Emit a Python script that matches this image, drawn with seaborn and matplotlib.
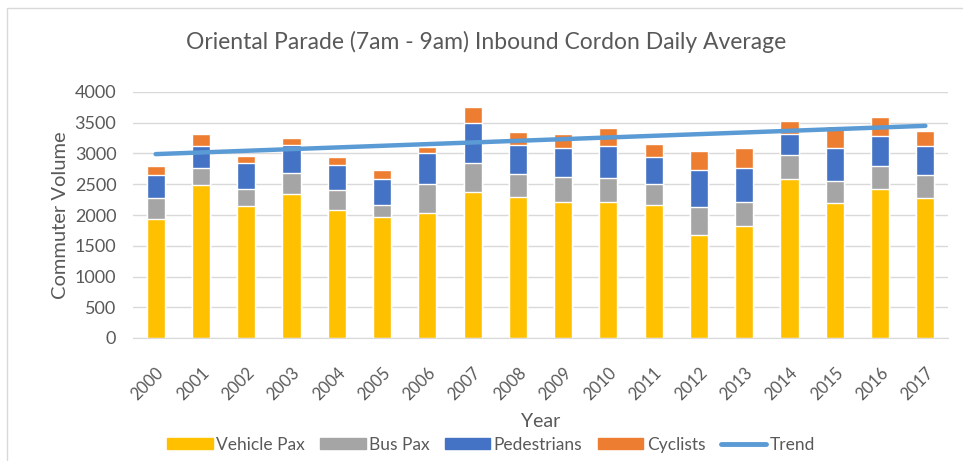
import numpy as np
import pandas as pd
import matplotlib
matplotlib.use('Agg')
import matplotlib.pyplot as plt
import seaborn as sns
from matplotlib.patches import Patch, Rectangle
from matplotlib.lines import Line2D

years = [str(y) for y in range(2000, 2018)]
vehicle_pax = [1935, 2490, 2150, 2345, 2075, 1960, 2040, 2370, 2285, 2205, 2210, 2155, 1675, 1815, 2590, 2200, 2420, 2270]
bus_pax = [335, 275, 265, 335, 325, 200, 460, 475, 385, 405, 390, 345, 450, 395, 390, 350, 380, 380]
pedestrians = [385, 350, 425, 455, 405, 425, 500, 655, 475, 475, 520, 450, 605, 550, 335, 545, 490, 480]
cyclists = [145, 195, 125, 125, 135, 150, 110, 250, 205, 235, 295, 210, 315, 335, 215, 360, 305, 240]
trend_ends = [2990, 3450]  # trendline value at 2000 and at 2017

df = pd.DataFrame({'Year': years, 'Vehicle Pax': vehicle_pax, 'Bus Pax': bus_pax,
                   'Pedestrians': pedestrians, 'Cyclists': cyclists})
df['lvl1'] = df['Vehicle Pax']
df['lvl2'] = df['lvl1'] + df['Bus Pax']
df['lvl3'] = df['lvl2'] + df['Pedestrians']
df['lvl4'] = df['lvl3'] + df['Cyclists']

sns.set_style('white')
plt.rcParams['font.family'] = ['Lato', 'DejaVu Sans']
txt = '#595959'

fig = plt.figure(figsize=(9.63, 4.61), dpi=100)
ax = fig.add_axes([133 / 963, 1 - 338 / 461, (948 - 133) / 963, (338 - 92) / 461])

colors = {'lvl4': '#ED7D31', 'lvl3': '#4472C4', 'lvl2': '#A5A5A5', 'lvl1': '#FFC000'}
for col in ['lvl4', 'lvl3', 'lvl2', 'lvl1']:
    sns.barplot(data=df, x='Year', y=col, color=colors[col], width=0.4,
                saturation=1, ax=ax, zorder=2)

ax.plot([0, len(years) - 1], trend_ends, color='#5B9BD5', lw=3.2,
        solid_capstyle='round', zorder=3)

ax.set_xlim(-0.5, len(years) - 0.5)
ax.set_ylim(0, 4000)
ax.set_yticks(range(0, 4001, 500))
ax.yaxis.grid(True, color='#D9D9D9', lw=1)
ax.set_axisbelow(True)
for s in ['top', 'right', 'left']:
    ax.spines[s].set_visible(False)
ax.spines['bottom'].set_color('#D9D9D9')
ax.tick_params(axis='y', length=0, labelsize=13, colors=txt, pad=12)
ax.tick_params(axis='x', length=0, labelsize=12, colors=txt, pad=19)
plt.setp(ax.get_xticklabels(), rotation=45, ha='right', rotation_mode='anchor')
ax.set_xlabel('Year', fontsize=14, color=txt, labelpad=7)
ax.set_ylabel('Commuter Volume', fontsize=14.5, color=txt, labelpad=4)

fig.text(0.505, 0.91, 'Oriental Parade (7am - 9am) Inbound Cordon Daily Average',
         ha='center', va='center', fontsize=16.5, color=txt)

handles = [Patch(color='#FFC000', label='Vehicle Pax'),
           Patch(color='#A5A5A5', label='Bus Pax'),
           Patch(color='#4472C4', label='Pedestrians'),
           Patch(color='#ED7D31', label='Cyclists'),
           Line2D([], [], color='#5B9BD5', lw=3.5, label='Trend')]
leg = fig.legend(handles=handles, loc='center', bbox_to_anchor=(0.510, 1 - 445 / 461),
                 ncol=5, frameon=False, fontsize=12.5, handlelength=2.6, handleheight=0.6,
                 handletextpad=0.2, columnspacing=0.9, labelcolor=txt)

fig.patches.append(Rectangle((7 / 963, -0.1), 1.1, 1 - 8 / 461 + 0.1,
                             transform=fig.transFigure, fill=False,
                             edgecolor='#D9D9D9', lw=1))

fig.savefig('out.png', dpi=100)
